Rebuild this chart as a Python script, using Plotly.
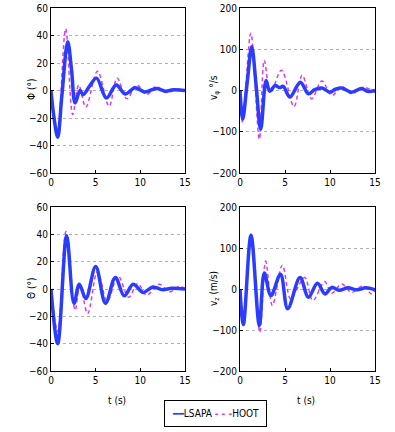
import plotly.graph_objects as go

# ---- data ----
phi_lsapa_t = [0, 0.3, 0.75, 1.2, 1.87, 2.3, 2.7, 3.25, 3.6, 4.3, 5.1, 6.2, 7.3, 8.3, 9.4, 10.5, 11.8, 12.8, 13.7, 15]
phi_lsapa_v = [0, -18, -34, -5, 35.5, 15, -9, 0, -3, 3, 9, -5.5, 4, -2.5, 2, -1, 1.5, -0.5, 0.5, 0]
phi_hoot_t = [0, 0.7, 1.64, 2.43, 3.1, 3.9, 5.2, 6.5, 7.4, 8.5, 9.6, 10.7, 11.8, 12.9, 14.2, 15]
phi_hoot_v = [0, -33, 45, -17.5, 4, -12, 14, -11.5, 9, -6, 4, -3, 3, -1.5, 1, 0]

vphi_lsapa_t = [0, 0.3, 0.8, 1.3, 1.8, 2.3, 2.9, 3.3, 3.9, 4.4, 4.8, 5.55, 6.7, 7.6, 8.3, 9.1, 10, 10.6, 11.3, 12.4, 13.5, 14.2, 15]
vphi_lsapa_v = [0, -69, 20, 106, 10, -94, 24, -2, 12, 7, 10, -16, 20, -8, 2, 6, -4, 3, 6, -4, 5, -2, 0]
vphi_hoot_t = [0, 0.3, 1.2, 2.15, 2.7, 3.4, 4.6, 6.0, 6.9, 7.96, 9.1, 10.2, 11.3, 12.4, 13.7, 15]
vphi_hoot_v = [0, -78, 139, -118, 73, -5, 49, -39, 37, -20, 23, -12, 10, -8, 8, -5]

theta_lsapa_t = [0, 0.75, 1.75, 2.57, 3.17, 3.9, 5.0, 6.1, 7.2, 8.2, 9.2, 10.3, 11.4, 12.5, 13.5, 15]
theta_lsapa_v = [0, -40, 39, -10.5, 3.5, -7, 16.5, -10.5, 8.5, -5, 3.5, -2.5, 1.5, -0.5, 0.5, 0]
theta_hoot_t = [0, 0.75, 1.68, 2.7, 3.25, 4.1, 5.2, 6.3, 7.5, 8.7, 9.7, 10.7, 12.1, 13.3, 14.4, 15]
theta_hoot_v = [0, -31, 42, -15.5, 3.5, -18, 12.7, -9, 9.5, -6, 4, -4.5, 3.5, -2, 2, 0]

vz_lsapa_t = [0, 0.37, 1.22, 2.15, 2.7, 3.44, 4.5, 5.3, 6.67, 7.6, 8.6, 9.44, 10.2, 11, 12, 13, 14, 15]
vz_lsapa_v = [0, -87, 131, -89, 39, -16, 36, -48, 28, -20, 14, -12, 4, -3, 3, -2, 3, -2]
vz_hoot_t = [0, 0.37, 1.22, 2.2, 2.85, 3.6, 4.7, 5.6, 6.2, 7.2, 8.1, 9.4, 10.2, 11.3, 12.4, 13.7, 14.6, 15]
vz_hoot_v = [0, -77, 133, -105, 68, -40, 58, -24, -5, 28, -28, 18, -10, 12, -8, 8, -12, -3]

x_ticks = [0, 5, 10, 15]
angle_ticks = [-60, -40, -20, 0, 20, 40, 60]
rate_ticks = [-200, -100, 0, 100, 200]
series_names = ["LSAPA", "HOOT"]
y_titles = ["Φ (°)", "v<sub>φ</sub> °/s", "Θ (°)", "v<sub>z</sub> (m/s)"]

W, H = 395, 432
BLUE = "#2a3cff"
MAGENTA = "#d63cf0"
FONT = "Liberation Sans Narrow, DejaVu Sans Condensed, Liberation Sans, Arial, sans-serif"

def px(x):
    return x / W

def py(y):
    return 1 - y / H

fig = go.Figure()

panels = [
    (phi_lsapa_t, phi_lsapa_v, phi_hoot_t, phi_hoot_v, "x", "y"),
    (vphi_lsapa_t, vphi_lsapa_v, vphi_hoot_t, vphi_hoot_v, "x2", "y2"),
    (theta_lsapa_t, theta_lsapa_v, theta_hoot_t, theta_hoot_v, "x3", "y3"),
    (vz_lsapa_t, vz_lsapa_v, vz_hoot_t, vz_hoot_v, "x4", "y4"),
]
for i, (lt, lv, ht, hv, xa, ya) in enumerate(panels):
    fig.add_trace(go.Scatter(x=ht, y=hv, xaxis=xa, yaxis=ya, mode="lines",
                             line=dict(color=MAGENTA, width=1.5, dash="4px,3px", shape="spline", smoothing=1.0),
                             name=series_names[1], showlegend=False))
    fig.add_trace(go.Scatter(x=lt, y=lv, xaxis=xa, yaxis=ya, mode="lines",
                             line=dict(color=BLUE, width=3.5, shape="spline", smoothing=1.0),
                             name=series_names[0], showlegend=False))

xdom_l = [px(51), px(185)]
xdom_r = [px(240), px(375)]
ydom_t = [py(173), py(8)]
ydom_b = [py(371), py(207)]

common_x = dict(range=[0, 15], tickvals=x_ticks, showgrid=False, zeroline=False,
                showline=True, mirror=True, linecolor="black", linewidth=1,
                ticks="inside", ticklen=3, tickcolor="black", automargin=False,
                tickfont=dict(family=FONT, size=10, color="black"))
common_y = dict(showgrid=True, gridcolor="#b0b0b0", griddash="dot", gridwidth=1,
                zeroline=False, showline=True, mirror=True, linecolor="black", linewidth=1,
                ticks="inside", ticklen=3, tickcolor="black", automargin=False,
                tickfont=dict(family=FONT, size=10, color="black"))

fig.update_layout(
    template="none",
    width=W, height=H,
    margin=dict(l=0, r=0, t=0, b=0, autoexpand=False),
    paper_bgcolor="white", plot_bgcolor="white",
    xaxis=dict(domain=xdom_l, anchor="y", **common_x),
    yaxis=dict(domain=ydom_t, anchor="x", range=[-60, 60], tickvals=angle_ticks, **common_y),
    xaxis2=dict(domain=xdom_r, anchor="y2", **common_x),
    yaxis2=dict(domain=ydom_t, anchor="x2", range=[-200, 200], tickvals=rate_ticks, **common_y),
    xaxis3=dict(domain=xdom_l, anchor="y3", **common_x),
    yaxis3=dict(domain=ydom_b, anchor="x3", range=[-60, 60], tickvals=angle_ticks, **common_y),
    xaxis4=dict(domain=xdom_r, anchor="y4", **common_x),
    yaxis4=dict(domain=ydom_b, anchor="x4", range=[-200, 200], tickvals=rate_ticks, **common_y),
    showlegend=False,
)

# axis titles
title_pos = [(31, 90), (214, 88), (31, 289), (214, 289)]
for txt, (ax, ay) in zip(y_titles, title_pos):
    fig.add_annotation(text=txt, x=px(ax), y=py(ay), xref="paper", yref="paper",
                       xanchor="center", yanchor="middle",
                       showarrow=False, textangle=-90,
                       font=dict(family=FONT, size=10, color="black"))
for ax in (117, 306):
    fig.add_annotation(text="t (s)", x=px(ax), y=py(400), xref="paper", yref="paper",
                       xanchor="center", yanchor="middle",
                       showarrow=False, font=dict(family=FONT, size=10, color="black"))

# compact boxed legend
legend_text = (f"<span style='color:{BLUE}'><b>━━</b></span>{series_names[0]} "
               f"<span style='color:{MAGENTA}'><b>- - -</b></span>{series_names[1]}")
fig.add_annotation(text=legend_text, x=px(215), y=py(413), xref="paper", yref="paper",
                   xanchor="center", yanchor="middle",
                   showarrow=False, bordercolor="black", borderwidth=1, borderpad=7,
                   bgcolor="white", font=dict(family=FONT, size=10, color="black"))

# remove the default page margin so the figure sits at the window's top-left corner
fig.write_html("out.html", config={"displayModeBar": False},
               post_script="document.body.style.margin='0';")
